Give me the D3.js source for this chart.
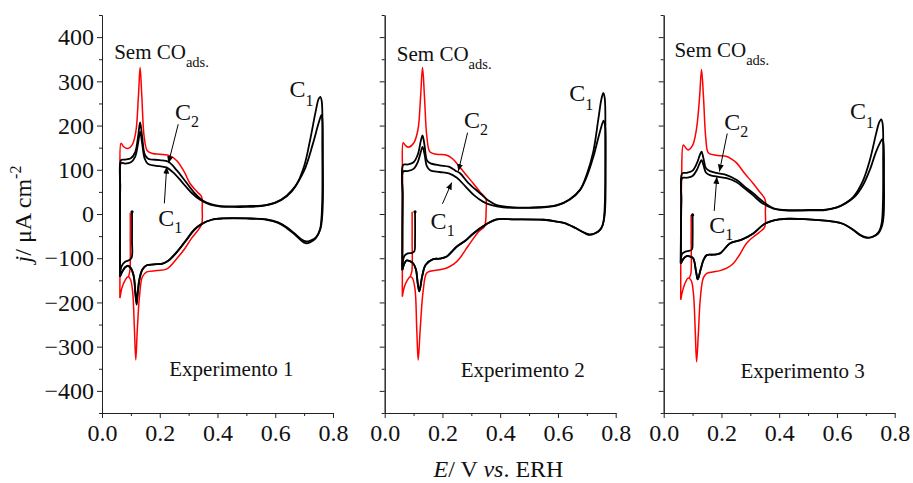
<!DOCTYPE html>
<html lang="pt">
<head>
<meta charset="UTF-8">
<script src="https://d3js.org/d3.v7.min.js"></script>
<title>Voltametrias - Experimentos 1 a 3</title>
<style>
  body { margin: 0; background: #fff; }
  svg text { font-family: "Liberation Serif", "Times New Roman", serif; fill: #111; }
  .domain, .tick line { stroke: #222; }
</style>
</head>
<body>
<svg id="chart" width="913" height="483"></svg>
<script>
// ---- data: [E (V vs. ERH), j (uA cm-2)] ----
const experimentNames = ["Experimento 1", "Experimento 2", "Experimento 3"];
const xTicks = [0, 0.2, 0.4, 0.6, 0.8];
const xMinor = [0.1, 0.3, 0.5, 0.7];
const yTicks = [-400, -300, -200, -100, 0, 100, 200, 300, 400];
const yMinor = [-450, -350, -250, -150, -50, 50, 150, 250, 350, 450];

// Experimento 1
const exp1RedStart = [[0.098,3],[0.098,-60],[0.097,-125],[0.092,-142]];
const exp1Red = [[0.062,-190],[0.063,60],[0.066,160],[0.075,152],[0.09,148],[0.105,157],[0.117,185],[0.126,265],[0.132,331],[0.138,265],[0.146,175],[0.157,143],[0.175,137],[0.2,135],[0.235,132],[0.26,120],[0.285,95],[0.305,69],[0.33,50],[0.345,39],
  [0.347,10],[0.346,-21],[0.338,-32],[0.31,-55],[0.287,-78],[0.26,-100],[0.225,-124],[0.19,-128],[0.155,-131],[0.14,-142],[0.13,-185],[0.122,-265],[0.117,-330],[0.112,-255],[0.106,-175],[0.098,-147],[0.09,-142],[0.08,-150],[0.07,-165],[0.062,-190]];
const exp1Start = [[0.104,5],[0.104,-60],[0.103,-98],[0.095,-104],[0.08,-108],[0.068,-118],[0.062,-140]];
const exp1C1 = [[0.062,-142],[0.063,60],[0.066,115],[0.08,114],[0.1,117],[0.115,130],[0.125,160],[0.132,186],[0.139,160],[0.148,125],[0.16,113],[0.2,108],[0.224,105],[0.25,92],[0.28,70],[0.31,48],[0.34,32],[0.37,22],[0.41,17],[0.45,16],[0.5,16],[0.55,18],[0.6,25],[0.64,40],[0.67,62],[0.7,108],[0.72,165],[0.74,232],[0.75,260],[0.756,265],
  [0.761,255],[0.763,150],[0.763,40],[0.76,-10],[0.755,-35],[0.74,-55],[0.72,-64],[0.705,-66],[0.69,-60],[0.665,-45],[0.64,-32],[0.61,-20],[0.57,-13],[0.5,-10],[0.42,-10],[0.38,-13],[0.345,-22],[0.32,-35],[0.29,-60],[0.26,-85],[0.23,-105],[0.21,-112],[0.18,-114],[0.155,-116],[0.14,-125],[0.13,-145],[0.123,-180],[0.12,-200],[0.116,-180],[0.11,-140],[0.1,-122],[0.09,-117],[0.08,-120],[0.07,-130],[0.062,-142]];
const exp1C2 = [[0.062,-142],[0.063,60],[0.066,122],[0.08,123],[0.1,126],[0.115,140],[0.125,175],[0.132,207],[0.139,175],[0.148,135],[0.16,125],[0.2,122],[0.23,118],[0.26,98],[0.29,73],[0.32,48],[0.35,30],[0.38,22],[0.41,18],[0.5,18],[0.57,20],[0.62,32],[0.66,55],[0.7,98],[0.73,158],[0.75,205],[0.76,224],
  [0.763,215],[0.765,120],[0.765,30],[0.762,-10],[0.757,-32],[0.742,-52],[0.722,-60],[0.707,-62],[0.69,-57],[0.665,-43],[0.64,-30],[0.61,-19],[0.57,-12],[0.5,-10],[0.42,-10],[0.38,-13],[0.345,-23],[0.32,-36],[0.29,-61],[0.26,-86],[0.23,-106],[0.21,-112],[0.18,-114],[0.155,-116],[0.14,-126],[0.13,-148],[0.123,-185],[0.12,-205],[0.116,-185],[0.11,-142],[0.1,-123],[0.09,-118],[0.08,-121],[0.07,-131],[0.062,-142]];

// Experimento 2
const exp2RedStart = [[0.095,5],[0.095,-60],[0.094,-130],[0.088,-142]];
const exp2Red = [[0.061,-187],[0.062,80],[0.064,161],[0.072,155],[0.082,151],[0.1,160],[0.115,190],[0.124,262],[0.131,331],[0.138,262],[0.146,175],[0.157,140],[0.18,135],[0.215,133],[0.235,125],[0.249,115],[0.28,90],[0.307,69],[0.33,50],[0.35,35],
  [0.351,5],[0.35,-14],[0.345,-29],[0.325,-40],[0.3,-62],[0.28,-81],[0.26,-100],[0.24,-113],[0.215,-122],[0.19,-126],[0.16,-129],[0.145,-134],[0.133,-175],[0.123,-260],[0.116,-330],[0.111,-260],[0.105,-170],[0.096,-145],[0.088,-142],[0.078,-150],[0.068,-165],[0.061,-187]];
const exp2Start = [[0.105,5],[0.105,-60],[0.103,-84],[0.095,-88],[0.08,-89],[0.068,-95],[0.061,-120]];
const exp2C1 = [[0.061,-127],[0.062,40],[0.064,96],[0.08,97],[0.1,102],[0.115,118],[0.125,140],[0.131,152],[0.138,135],[0.146,108],[0.157,99],[0.19,95],[0.222,92],[0.25,82],[0.28,62],[0.31,42],[0.34,28],[0.37,20],[0.41,15],[0.45,14],[0.5,14],[0.55,15],[0.6,20],[0.64,32],[0.676,54],[0.7,90],[0.722,140],[0.74,215],[0.75,258],[0.757,274],
  [0.762,262],[0.764,150],[0.763,40],[0.76,-5],[0.755,-25],[0.74,-40],[0.72,-46],[0.705,-47],[0.69,-42],[0.67,-35],[0.653,-29],[0.62,-20],[0.596,-17],[0.55,-13],[0.45,-12],[0.388,-12],[0.35,-24],[0.307,-44],[0.28,-60],[0.249,-74],[0.215,-96],[0.19,-101],[0.168,-102],[0.142,-115],[0.13,-140],[0.12,-175],[0.115,-160],[0.108,-125],[0.099,-112],[0.085,-106],[0.076,-105],[0.068,-112],[0.061,-127]];
const exp2C2 = [[0.061,-127],[0.062,40],[0.064,111],[0.08,112],[0.1,117],[0.115,135],[0.125,165],[0.131,178],[0.138,155],[0.146,122],[0.157,115],[0.19,110],[0.222,107],[0.245,98],[0.261,92],[0.29,70],[0.33,47],[0.36,30],[0.388,20],[0.447,15],[0.52,15],[0.596,20],[0.64,33],[0.676,54],[0.7,85],[0.722,128],[0.745,185],[0.758,211],
  [0.763,200],[0.765,100],[0.764,20],[0.76,-10],[0.75,-32],[0.73,-43],[0.71,-46],[0.69,-42],[0.67,-35],[0.653,-29],[0.62,-20],[0.596,-17],[0.55,-13],[0.45,-12],[0.388,-12],[0.35,-24],[0.307,-44],[0.28,-60],[0.249,-74],[0.215,-96],[0.19,-101],[0.168,-102],[0.142,-115],[0.13,-140],[0.12,-175],[0.115,-160],[0.108,-125],[0.099,-112],[0.085,-106],[0.076,-105],[0.068,-112],[0.061,-127]];

// Experimento 3
const exp3RedStart = [[0.095,-2],[0.095,-60],[0.094,-135],[0.088,-145]];
const exp3Red = [[0.059,-194],[0.062,80],[0.068,156],[0.076,150],[0.085,145],[0.1,155],[0.113,190],[0.124,262],[0.131,327],[0.138,262],[0.146,170],[0.155,138],[0.18,133],[0.218,130],[0.235,124],[0.253,115],[0.28,92],[0.31,69],[0.33,52],[0.351,33],
  [0.352,5],[0.35,-29],[0.33,-42],[0.31,-52],[0.287,-66],[0.26,-95],[0.241,-112],[0.22,-122],[0.195,-128],[0.17,-131],[0.149,-134],[0.137,-145],[0.127,-190],[0.12,-270],[0.114,-334],[0.109,-260],[0.103,-180],[0.095,-150],[0.085,-145],[0.075,-155],[0.065,-175],[0.059,-194]];
const exp3Start = [[0.1,-2],[0.1,-60],[0.098,-80],[0.09,-83],[0.075,-85],[0.064,-90],[0.059,-108]];
const exp3C1 = [[0.059,-112],[0.061,30],[0.064,81],[0.08,82],[0.1,86],[0.115,100],[0.125,115],[0.131,122],[0.138,110],[0.146,94],[0.16,88],[0.19,84],[0.218,81],[0.253,72],[0.28,58],[0.31,42],[0.34,25],[0.38,12],[0.42,8],[0.5,8],[0.56,9],[0.6,15],[0.63,25],[0.657,39],[0.69,75],[0.714,122],[0.735,180],[0.745,205],[0.753,214],
  [0.758,205],[0.76,120],[0.759,20],[0.755,-20],[0.745,-40],[0.725,-51],[0.703,-53],[0.68,-47],[0.657,-36],[0.62,-22],[0.587,-17],[0.5,-12],[0.4,-12],[0.35,-22],[0.31,-44],[0.27,-58],[0.23,-66],[0.195,-89],[0.17,-92],[0.149,-93],[0.138,-104],[0.128,-125],[0.118,-148],[0.112,-130],[0.102,-100],[0.09,-96],[0.08,-95],[0.07,-100],[0.059,-112]];
const exp3C2 = [[0.059,-112],[0.061,30],[0.064,92],[0.08,93],[0.1,98],[0.115,115],[0.125,133],[0.131,141],[0.138,125],[0.146,104],[0.16,97],[0.19,92],[0.218,88],[0.253,77],[0.28,62],[0.31,47],[0.34,30],[0.38,13],[0.42,9],[0.5,9],[0.56,10],[0.6,15],[0.63,24],[0.66,38],[0.69,65],[0.714,100],[0.735,140],[0.75,162],[0.757,169],
  [0.761,160],[0.763,80],[0.762,0],[0.757,-25],[0.742,-45],[0.722,-52],[0.703,-54],[0.68,-48],[0.657,-36],[0.62,-22],[0.587,-17],[0.5,-12],[0.4,-12],[0.35,-22],[0.31,-44],[0.27,-58],[0.23,-66],[0.195,-89],[0.17,-92],[0.149,-93],[0.138,-104],[0.128,-125],[0.118,-148],[0.112,-130],[0.102,-100],[0.09,-96],[0.08,-95],[0.07,-100],[0.059,-112]];

// annotation anchor points, in data units of each panel
const notes = [
  { sem: [0.042, 350], c2: [0.253, 212], c2Arrow: [[0.264, 203], [0.230, 115]], c1: [0.195, -27], c1Arrow: [[0.216, 24], [0.224, 107]], c1Right: [0.649, 265], exp: [0.233, -366] },
  { sem: [0.042, 346], c2: [0.275, 194], c2Arrow: [[0.287, 184], [0.255, 97]], c1: [0.159, -35], c1Arrow: [[0.200, 23], [0.232, 71]], c1Right: [0.639, 256], exp: [0.263, -368] },
  { sem: [0.037, 354], c2: [0.210, 191], c2Arrow: [[0.220, 182], [0.193, 96]], c1: [0.158, -44], c1Arrow: [[0.175, 7], [0.184, 84]], c1Right: [0.645, 214], exp: [0.266, -370] }
];

const panels = [
  { red: exp1Red, redStart: exp1RedStart, start: exp1Start, c1: exp1C1, c2: exp1C2 },
  { red: exp2Red, redStart: exp2RedStart, start: exp2Start, c1: exp2C1, c2: exp2C2 },
  { red: exp3Red, redStart: exp3RedStart, start: exp3Start, c1: exp3C1, c2: exp3C2 }
];

// ---- layout ----
const svg = d3.select('#chart');
const plotTop = 15, plotBottom = 413;
const panelLeft = [102, 384.7, 663.7];
const panelW = 231;

const y = d3.scaleLinear().domain([-450, 450]).range([plotBottom, plotTop]);

svg.append('defs').append('marker')
  .attr('id', 'arrow')
  .attr('markerUnits', 'userSpaceOnUse')
  .attr('markerWidth', 10).attr('markerHeight', 10)
  .attr('refX', 7).attr('refY', 3)
  .attr('orient', 'auto')
  .append('path')
  .attr('d', 'M0,0L7,3L0,6Z')
  .attr('fill', '#000');

function subText(g, pos, main, sub, size, subSize, dy, x) {
  const t = g.append('text')
    .attr('x', x(pos[0])).attr('y', y(pos[1]))
    .attr('font-size', size)
    .text(main);
  t.append('tspan')
    .attr('font-size', subSize)
    .attr('dy', dy)
    .text(sub);
}

panels.forEach((p, i) => {
  const x = d3.scaleLinear().domain([0, 0.8]).range([panelLeft[i], panelLeft[i] + panelW]);
  const g = svg.append('g');
  const line = d3.line()
    .x(d => x(d[0]))
    .y(d => y(d[1]))
    .curve(d3.curveCatmullRom.alpha(0.5));

  // axes
  const yAxis = d3.axisLeft(y).tickValues(yTicks).tickSize(5).tickSizeOuter(0).tickPadding(3);
  if (i > 0) yAxis.tickFormat('');
  const ya = g.append('g').attr('transform', `translate(${panelLeft[i]},0)`).call(yAxis);
  g.append('g').attr('transform', `translate(${panelLeft[i]},0)`)
    .call(d3.axisLeft(y).tickValues(yMinor).tickSize(3).tickFormat('').tickSizeOuter(0));

  const xAxis = d3.axisBottom(x).tickValues(xTicks).tickFormat(d3.format('.1f')).tickSize(5).tickSizeOuter(0).tickPadding(6);
  const xa = g.append('g').attr('transform', `translate(0,${plotBottom})`).call(xAxis);
  g.append('g').attr('transform', `translate(0,${plotBottom})`)
    .call(d3.axisBottom(x).tickValues(xMinor).tickSize(3).tickFormat('').tickSizeOuter(0));

  [ya, xa].forEach(a => a.selectAll('text')
    .attr('font-size', 24)
    .attr('font-family', '"Liberation Serif", "Times New Roman", serif')
    .attr('fill', '#111'));

  // curves: red first, black over it
  [p.redStart, p.red].forEach(d => {
    g.append('path').datum(d).attr('d', line)
      .attr('fill', 'none').attr('stroke', '#ff0000').attr('stroke-width', 1.5)
      .attr('stroke-linejoin', 'round');
  });
  [p.start, p.c1, p.c2].forEach(d => {
    g.append('path').datum(d).attr('d', line)
      .attr('fill', 'none').attr('stroke', '#000').attr('stroke-width', 1.8)
      .attr('stroke-linejoin', 'round');
  });
  g.append('circle')
    .attr('cx', x(p.start[0][0])).attr('cy', y(p.start[0][1]))
    .attr('r', 1.6).attr('fill', '#000');

  // annotations
  const n = notes[i];
  subText(g, n.sem, 'Sem CO', 'ads.', 21, 14.5, 8, x);
  subText(g, n.c2, 'C', '2', 24, 16, 7, x);
  subText(g, n.c1, 'C', '1', 24, 16, 7, x);
  subText(g, n.c1Right, 'C', '1', 24, 16, 9, x);
  [n.c2Arrow, n.c1Arrow].forEach(a => {
    g.append('line')
      .attr('x1', x(a[0][0])).attr('y1', y(a[0][1]))
      .attr('x2', x(a[1][0])).attr('y2', y(a[1][1]))
      .attr('stroke', '#000').attr('stroke-width', 1)
      .attr('marker-end', 'url(#arrow)');
  });
  g.append('text')
    .attr('x', x(n.exp[0])).attr('y', y(n.exp[1]))
    .attr('font-size', 21)
    .text(experimentNames[i]);
});

// axis titles
const xt = svg.append('text')
  .attr('x', 498.5).attr('y', 477)
  .attr('text-anchor', 'middle')
  .attr('font-size', 24);
xt.append('tspan').attr('font-style', 'italic').text('E');
xt.append('tspan').text('/ V ');
xt.append('tspan').attr('font-style', 'italic').text('vs');
xt.append('tspan').text('. ERH');

const yt = svg.append('text')
  .attr('transform', 'translate(31,214) rotate(-90)')
  .attr('text-anchor', 'middle')
  .attr('font-size', 24);
yt.append('tspan').attr('font-style', 'italic').text('j');
yt.append('tspan').text('/ \u03bcA cm');
yt.append('tspan').attr('font-size', 16).attr('dy', -10).text('-2');
</script>
</body>
</html>
